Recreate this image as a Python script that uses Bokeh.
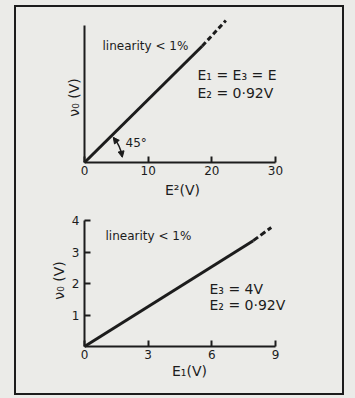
import math
from bokeh.plotting import figure
from bokeh.layouts import column
from bokeh.models import Label, FixedTicker, Arrow, NormalHead, Range1d
from bokeh.embed import file_html
from bokeh.resources import INLINE

# ---------------- data ----------------
# top chart: v0 versus E^2 (E1 = E3 = E, E2 = 0.92 V)
top_E2_solid = [0, 18.5]
top_vo_solid = [0, 18.3]
top_E2_dash = [18.5, 22.2]
top_vo_dash = [18.3, 22.3]
top_xticks = [0, 10, 20, 30]

# bottom chart: v0 versus E1 (E3 = 4 V, E2 = 0.92 V)
bot_E1_solid = [0, 7.95]
bot_vo_solid = [0, 3.36]
bot_E1_dash = [7.95, 8.8]
bot_vo_dash = [3.36, 3.78]
bot_xticks = [0, 3, 6, 9]
bot_yticks = [1, 2, 3, 4]

angle_label = "45°"
angle_deg = 45

INK = "#1c1c1c"
BG = "#ebebe8"
FONT = "DejaVu Sans"

# ---------------- layout geometry (page pixels) ----------------
FIG_LEFT, FIG_W = 16, 326


class Geo:
    def __init__(self, top, height, ox, oy, sx, sy):
        self.top, self.height, self.ox, self.oy, self.sx, self.sy = top, height, ox, oy, sx, sy

    def x(self, px):
        return (px - self.ox) / self.sx

    def y(self, py):
        return (self.oy - py) / self.sy


g1 = Geo(7, 198, 84, 162, 191 / 30, 191 / 30)
g2 = Geo(205, 188, 84, 346, 191 / 9, 126 / 4)


def make_fig(g, xb, yb, xticks, yticks):
    p = figure(width=FIG_W, height=g.height,
               x_range=Range1d(g.x(FIG_LEFT), g.x(FIG_LEFT + FIG_W)),
               y_range=Range1d(g.y(g.top + g.height), g.y(g.top)),
               output_backend="svg", toolbar_location=None, min_border=0)
    p.grid.visible = False
    p.outline_line_color = None
    p.background_fill_color = BG
    p.border_fill_color = BG
    for ax, b, t in ((p.xaxis[0], xb, xticks), (p.yaxis[0], yb, yticks)):
        ax.fixed_location = 0
        ax.bounds = b
        ax.ticker = FixedTicker(ticks=t)
        ax.axis_line_width = 2
        ax.axis_line_color = INK
        ax.major_tick_line_color = INK
        ax.major_tick_line_width = 2
        ax.major_tick_in = 6
        ax.major_tick_out = 0
        ax.minor_tick_line_color = None
        ax.major_label_text_font = FONT
        ax.major_label_text_font_size = "12px"
        ax.major_label_text_color = INK
    p.xaxis.major_label_standoff = 3
    p.yaxis.major_label_standoff = 5
    return p


def lab(p, g, px, py, text, size="14px", align="left", angle=0):
    p.add_layout(Label(x=g.x(px), y=g.y(py), text=text, text_font=FONT, text_font_size=size,
                       text_color=INK, text_baseline="middle", text_align=align,
                       angle=angle, angle_units="deg"))


# ---------------- top figure ----------------
p1 = make_fig(g1, (0, top_xticks[-1]), (0, 21.5), top_xticks, [])
p1.line(top_E2_solid, top_vo_solid, line_width=3, line_color=INK)
p1.line(top_E2_dash, top_vo_dash, line_width=3, line_color=INK, line_dash="5 3")

# 45 degree angle marker
R = 6.0
a0, a1 = math.radians(9), math.radians(angle_deg - 5)
p1.arc(x=[0], y=[0], radius=R, start_angle=a0, end_angle=a1, line_color=INK, line_width=1.5)
for s, e in ((a1 - 0.12, a1 + 0.02), (a0 + 0.12, a0 - 0.02)):
    p1.add_layout(Arrow(end=NormalHead(size=6, fill_color=INK, line_color=INK),
                        x_start=R * math.cos(s), y_start=R * math.sin(s),
                        x_end=R * math.cos(e), y_end=R * math.sin(e),
                        line_color=INK, line_width=1.5))
lab(p1, g1, 125, 142, angle_label, "12px")
lab(p1, g1, 102, 45, "linearity < 1%", "12px")
lab(p1, g1, 197, 74, "E₁ = E₃ = E")
lab(p1, g1, 197, 92, "E₂ = 0·92V")
lab(p1, g1, 182, 189, "E²(V)", align="center")
lab(p1, g1, 73, 97, "ν₀ (V)", align="center", angle=90)

# ---------------- bottom figure ----------------
p2 = make_fig(g2, (0, bot_xticks[-1]), (0, bot_yticks[-1]), bot_xticks, bot_yticks)
p2.line(bot_E1_solid, bot_vo_solid, line_width=3, line_color=INK)
p2.line(bot_E1_dash, bot_vo_dash, line_width=3, line_color=INK, line_dash="6 3")
lab(p2, g2, 105, 235, "linearity < 1%", "12px")
lab(p2, g2, 209, 288, "E₃ = 4V")
lab(p2, g2, 209, 304, "E₂ = 0·92V")
lab(p2, g2, 189, 370, "E₁(V)", align="center")
lab(p2, g2, 58, 280, "ν₀ (V)", align="center", angle=90)

inner = column(p1, p2, margin=(5, 0, 0, 14),
               styles={"border": "2px solid #1c1c1c", "background-color": BG})
outer = column(inner, styles={"background-color": BG, "width": "355px", "height": "398px"})

open("out.html", "w").write(file_html(outer, INLINE))
